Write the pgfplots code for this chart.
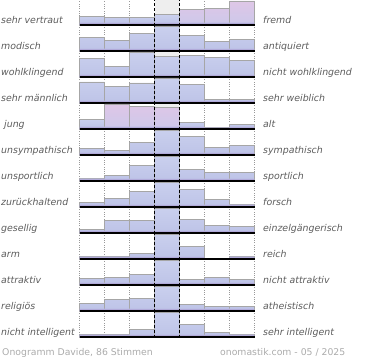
\documentclass[border=0pt]{standalone}
\usepackage{pgfplots}
\pgfplotsset{compat=1.18}
\usepackage{fontspec}
\setmainfont{DejaVu Sans}
\definecolor{lbl}{HTML}{5C5C5C}
\definecolor{foot}{HTML}{ABABAB}
\definecolor{barT}{HTML}{CAD0EE}
\definecolor{barB}{HTML}{BDC3E7}
\definecolor{pinkT}{HTML}{DFC7E7}
\definecolor{pinkB}{HTML}{CCC8EA}
\definecolor{stripT}{HTML}{B6B2DE}
\definecolor{stripB}{HTML}{9C8CC6}
\definecolor{centerbg}{HTML}{EEEEEE}
\pgfplotsset{
  rowax/.style={scale only axis, width=175pt, height=25pt, xmin=0, xmax=7, ymin=0, ymax=25,
    axis line style={draw=none}, ytick=\empty, xtick={0,1,2,5,6,7}, xticklabels={},
    major tick length=0pt, xmajorgrids,
    major grid style={gray!80, dash pattern=on 0.7pt off 1.6pt, line width=0.5pt},
    clip=false, anchor=south west},
  bluebar/.style={ybar, bar width=1, bar shift=0pt, draw=gray!70, line width=0.5pt, top color=barT, bottom color=barB},
  pinkbar/.style={ybar, bar width=1, bar shift=0pt, draw=gray!70, line width=0.5pt, top color=pinkT, bottom color=pinkB},
  stripbar/.style={ybar, bar width=0.985, bar shift=0pt, draw=none, top color=stripT, bottom color=stripB},
}
\tikzset{lab/.style={inner sep=0pt, text=lbl, font=\fontsize{9.4}{11}\selectfont\itshape}}
\newcommand{\onorow}[4]{%
\begin{axis}[rowax, at={(79.5pt,#1pt)}]
\fill[centerbg] (axis cs:3,0) rectangle (axis cs:4,25);
#2
\draw[black, line width=1.5pt] (axis cs:0,0) -- (axis cs:7,0);
\draw[black, line width=0.8pt, dash pattern=on 3pt off 2pt] (axis cs:3,-0.5) -- (axis cs:3,25.5);
\draw[black, line width=0.8pt, dash pattern=on 3pt off 2pt] (axis cs:4,-0.5) -- (axis cs:4,25.5);
\end{axis}
\node[lab, anchor=base west] at (1pt,{#1pt+1.5pt}) {#3};
\node[lab, anchor=base west] at (263pt,{#1pt+1.5pt}) {#4};
}
\begin{document}
\begin{tikzpicture}
\path[use as bounding box] (0,0) rectangle (370pt,360pt);
\onorow{335}{%
\addplot[bluebar] coordinates {(0.5,9) (1.5,7.7) (2.5,7.7) (3.5,10.7)};
\addplot[pinkbar] coordinates {(4.5,15.3) (5.5,16.7) (6.5,24)};
\addplot[stripbar] coordinates {(0.5,2.5) (1.5,2.5) (2.5,2.5) (3.5,2.5) (4.5,2.5) (5.5,2.5) (6.5,2.5)};
}{sehr vertraut}{fremd}
\onorow{309}{%
\addplot[bluebar] coordinates {(0.5,14) (1.5,11) (2.5,17.3) (3.5,25) (4.5,15.7) (5.5,10) (6.5,11.3)};
\addplot[stripbar] coordinates {(0.5,2.5) (1.5,2.5) (2.5,2.5) (3.5,2.5) (4.5,2.5) (5.5,2.5) (6.5,2.5)};
}{modisch}{antiquiert}
\onorow{283}{%
\addplot[bluebar] coordinates {(0.5,18.3) (1.5,10.7) (2.5,25) (3.5,20.3) (4.5,21.7) (5.5,19.3) (6.5,16.7)};
\addplot[stripbar] coordinates {(0.5,2.5) (1.5,2.5) (2.5,2.5) (3.5,2.5) (4.5,2.5) (5.5,2.5) (6.5,2.5)};
}{wohlklingend}{nicht wohlklingend}
\onorow{257}{%
\addplot[bluebar] coordinates {(0.5,21) (1.5,16.3) (2.5,20) (3.5,25) (4.5,18.3) (5.5,3.5) (6.5,3.3)};
\addplot[stripbar] coordinates {(0.5,2.5) (1.5,2.5) (2.5,2.5) (3.5,2.5) (4.5,2.5) (5.5,2.5) (6.5,2.5)};
}{sehr männlich}{sehr weiblich}
\onorow{231}{%
\addplot[bluebar] coordinates {(0.5,10) (4.5,6.3) (5.5,1.3) (6.5,4.3)};
\addplot[pinkbar] coordinates {(1.5,25) (2.5,22.3) (3.5,21.7)};
\addplot[stripbar] coordinates {(0.5,2.5) (1.5,2.5) (2.5,2.5) (3.5,2.5) (4.5,2.5) (5.5,1.3) (6.5,2.5)};
}{\ jung}{alt}
\onorow{205}{%
\addplot[bluebar] coordinates {(0.5,6.3) (1.5,5) (2.5,13) (3.5,25) (4.5,18.3) (5.5,7.3) (6.5,9.3)};
\addplot[stripbar] coordinates {(0.5,2.5) (1.5,2.5) (2.5,2.5) (3.5,2.5) (4.5,2.5) (5.5,2.5) (6.5,2.5)};
}{unsympathisch}{sympathisch}
\onorow{179}{%
\addplot[bluebar] coordinates {(0.5,2.3) (1.5,5.7) (2.5,15.7) (3.5,25) (4.5,11.3) (5.5,8.3) (6.5,8.3)};
\addplot[stripbar] coordinates {(0.5,2.3) (1.5,2.5) (2.5,2.5) (3.5,2.5) (4.5,2.5) (5.5,2.5) (6.5,2.5)};
}{unsportlich}{sportlich}
\onorow{153}{%
\addplot[bluebar] coordinates {(0.5,5) (1.5,8.3) (2.5,15.7) (3.5,25) (4.5,17.3) (5.5,7.3) (6.5,3)};
\addplot[stripbar] coordinates {(0.5,2.5) (1.5,2.5) (2.5,2.5) (3.5,2.5) (4.5,2.5) (5.5,2.5) (6.5,2.5)};
}{zurückhaltend}{forsch}
\onorow{127}{%
\addplot[bluebar] coordinates {(0.5,3.3) (1.5,12.7) (2.5,12.7) (3.5,25) (4.5,13.3) (5.5,7.3) (6.5,6.3)};
\addplot[stripbar] coordinates {(0.5,2.5) (1.5,2.5) (2.5,2.5) (3.5,2.5) (4.5,2.5) (5.5,2.5) (6.5,2.5)};
}{gesellig}{einzelgängerisch}
\onorow{101}{%
\addplot[bluebar] coordinates {(0.5,2.5) (1.5,2.5) (2.5,6) (3.5,25) (4.5,13) (6.5,3)};
\addplot[stripbar] coordinates {(0.5,2.5) (1.5,2.5) (2.5,2.5) (3.5,2.5) (4.5,2.5) (6.5,2.5)};
}{arm}{reich}
\onorow{75}{%
\addplot[bluebar] coordinates {(0.5,6.3) (1.5,7.3) (2.5,10.3) (3.5,25) (4.5,6) (5.5,7.3) (6.5,5.3)};
\addplot[stripbar] coordinates {(0.5,2.5) (1.5,2.5) (2.5,2.5) (3.5,2.5) (4.5,2.5) (5.5,2.5) (6.5,2.5)};
}{attraktiv}{nicht attraktiv}
\onorow{49}{%
\addplot[bluebar] coordinates {(0.5,8) (1.5,11.3) (2.5,12.7) (3.5,25) (4.5,7) (5.5,4.3) (6.5,4.3)};
\addplot[stripbar] coordinates {(0.5,2.5) (1.5,2.5) (2.5,2.5) (3.5,2.5) (4.5,2.5) (5.5,2.5) (6.5,2.5)};
}{religiös}{atheistisch}
\onorow{23}{%
\addplot[bluebar] coordinates {(0.5,2.7) (1.5,2.7) (2.5,7.3) (3.5,25) (4.5,12.7) (5.5,4.3) (6.5,2.7)};
\addplot[stripbar] coordinates {(0.5,2.5) (1.5,2.5) (2.5,2.5) (3.5,2.5) (4.5,2.5) (5.5,2.5) (6.5,2.5)};
}{nicht intelligent}{sehr intelligent}
\node[inner sep=0pt, anchor=base west, text=foot, font=\fontsize{9.3}{11}\selectfont] at (2pt,4.5pt) {Onogramm Davide, 86 Stimmen};
\node[inner sep=0pt, anchor=base west, text=foot, font=\fontsize{9.3}{11}\selectfont] at (220pt,4.5pt) {onomastik.com - 05 / 2025};
\end{tikzpicture}
\end{document}
